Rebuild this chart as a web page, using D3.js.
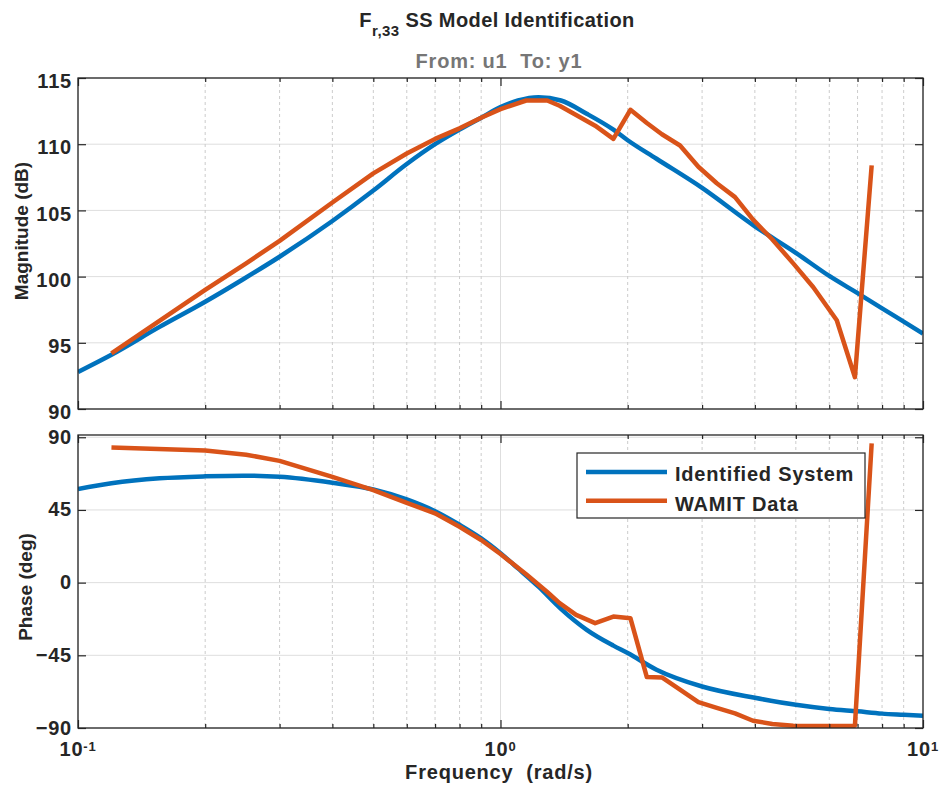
<!DOCTYPE html>
<html>
<head>
<meta charset="utf-8">
<script src="https://cdn.jsdelivr.net/npm/d3@7"></script>
<style>
  body { margin: 0; background: #fff; }
  svg { display: block; font-family: "Liberation Sans", Arial, Helvetica, sans-serif; font-weight: bold; }
</style>
</head>
<body>
<script>
// Identified system (smooth model curve)
var sysFreq  = [0.1, 0.12, 0.156, 0.2, 0.246, 0.3, 0.4, 0.5, 0.6, 0.7, 0.8, 0.9, 1.0, 1.1, 1.23, 1.39, 1.6, 1.85, 2.0, 2.34, 3.0, 4.0, 5.0, 6.0, 7.0, 8.0, 9.0, 10.0];
var sysMag   = [92.8, 94.1, 96.2, 98.1, 99.8, 101.5, 104.2, 106.5, 108.5, 110.0, 111.1, 112.0, 112.8, 113.3, 113.55, 113.3, 112.3, 111.1, 110.3, 108.9, 106.7, 103.8, 101.8, 100.05, 98.75, 97.6, 96.6, 95.7];
var sysPhase = [57.9, 61.5, 64.6, 65.8, 66.2, 65.5, 61.8, 57.7, 51.5, 44.2, 35.8, 27.4, 18.2, 8.8, -2.5, -16.2, -29.2, -39.0, -43.6, -53.9, -64.3, -71.3, -75.6, -78.2, -79.7, -81.1, -81.8, -82.4];

// WAMIT data (sampled points)
var wamitFreq  = [0.12, 0.2, 0.25, 0.3, 0.4, 0.5, 0.6, 0.7, 0.8, 0.9, 1.0, 1.15, 1.29, 1.38, 1.51, 1.675, 1.85, 2.03, 2.22, 2.41, 2.66, 2.94, 3.25, 3.59, 3.96, 4.4, 4.93, 5.5, 6.25, 6.9, 7.56];
var wamitMag   = [94.2, 99.0, 101.0, 102.7, 105.6, 107.8, 109.3, 110.4, 111.2, 112.0, 112.65, 113.3, 113.3, 112.9, 112.2, 111.4, 110.4, 112.6, 111.6, 110.75, 109.9, 108.3, 107.05, 106.0, 104.3, 102.8, 101.0, 99.2, 96.7, 92.4, 108.4];
var wamitPhase = [83.7, 81.8, 79.2, 75.4, 65.5, 57.3, 49.4, 42.9, 34.6, 26.4, 17.7, 5.2, -5.8, -12.7, -20.0, -25.1, -21.0, -22.0, -58.5, -58.7, -66.3, -74.0, -77.6, -80.9, -85.5, -87.5, -88.6, -88.8, -88.8, -88.6, 86.2];

var magTicks = [90, 95, 100, 105, 110, 115];
var phaseTicks = [-90, -45, 0, 45, 90];
var decadeTicks = [0.1, 1, 10];
var decadeExp = ["-1", "0", "1"];
var seriesNames = ["Identified System", "WAMIT Data"];

var W = 942, H = 794;
var BLUE = "#0072BD", ORANGE = "#D95319", INK = "#262626";

var svg = d3.select("body").append("svg").attr("width", W).attr("height", H);

var x = d3.scaleLog().domain([0.1, 10]).range([78, 923]);
var yMag = d3.scaleLinear().domain([90, 115]).range([409, 78]);
var yPh = d3.scaleLinear().domain([-90, 91.4]).range([728, 435]);

var minorX = x.ticks().filter(t => decadeTicks.indexOf(t) < 0);

function panel(id, y, yTicks, sysVals, wamitVals, labelDy) {
    var top = y.range()[1], bot = y.range()[0];
    var g = svg.append("g");

    // grid
    g.selectAll(".gy").data(yTicks).enter().append("line")
        .attr("x1", 78).attr("x2", 923)
        .attr("y1", d => y(d)).attr("y2", d => y(d))
        .attr("stroke", "#dedede").attr("stroke-width", 1);
    g.selectAll(".gxm").data(minorX).enter().append("line")
        .attr("x1", d => x(d)).attr("x2", d => x(d))
        .attr("y1", top).attr("y2", bot)
        .attr("stroke", "#cccccc").attr("stroke-width", 1).attr("stroke-dasharray", "3,3");
    g.selectAll(".gx").data(decadeTicks).enter().append("line")
        .attr("x1", d => x(d)).attr("x2", d => x(d))
        .attr("y1", top).attr("y2", bot)
        .attr("stroke", "#dedede").attr("stroke-width", 1);

    // data lines
    svg.append("clipPath").attr("id", id).append("rect")
        .attr("x", 78).attr("y", top).attr("width", 845).attr("height", bot - top);
    var sysLine = d3.line().x(d => x(d[0])).y(d => y(d[1])).curve(d3.curveMonotoneX);
    var wamitLine = d3.line().x(d => x(d[0])).y(d => y(d[1]));
    var lines = g.append("g").attr("clip-path", "url(#" + id + ")");
    lines.append("path").datum(d3.zip(sysFreq, sysVals))
        .attr("d", sysLine).attr("fill", "none").attr("stroke", BLUE)
        .attr("stroke-width", 4.5).attr("stroke-linejoin", "round");
    lines.append("path").datum(d3.zip(wamitFreq, wamitVals))
        .attr("d", wamitLine).attr("fill", "none").attr("stroke", ORANGE)
        .attr("stroke-width", 4.5).attr("stroke-linejoin", "round");

    // axes (inward ticks)
    var yl = g.append("g").attr("transform", "translate(78,0)")
        .call(d3.axisLeft(y).tickValues(yTicks).tickSize(-8).tickSizeOuter(0).tickPadding(6));
    g.append("g").attr("transform", "translate(923,0)")
        .call(d3.axisRight(y).tickValues(yTicks).tickSize(-8).tickSizeOuter(0).tickFormat(""));
    [top, bot].forEach(function (pos) {
        var ax = pos === top ? d3.axisBottom : d3.axisTop;
        g.append("g").attr("transform", "translate(0," + pos + ")")
            .call(ax(x).tickValues(decadeTicks).tickSize(8).tickSizeOuter(0).tickFormat(""));
        g.append("g").attr("transform", "translate(0," + pos + ")")
            .call(ax(x).tickValues(minorX).tickSize(4).tickSizeOuter(0).tickFormat(""));
    });
    g.selectAll(".domain").remove();
    g.selectAll(".tick line").attr("stroke", INK).attr("stroke-width", 1.2);
    yl.selectAll("text").attr("fill", INK).style("font-size", "20px")
        .style("letter-spacing", "0.8px").attr("dy", labelDy);

    g.append("rect").attr("x", 78).attr("y", top).attr("width", 845).attr("height", bot - top)
        .attr("fill", "none").attr("stroke", INK).attr("stroke-width", 1.3);
    return g;
}

panel("clipMag", yMag, magTicks, sysMag, wamitMag, "0.48em");
panel("clipPh", yPh, phaseTicks, sysPhase, wamitPhase, "0.3em");

// x tick labels 10^n
var xl = svg.append("g").selectAll("text").data(decadeTicks).enter().append("text")
    .attr("x", d => x(d)).attr("y", 756).attr("text-anchor", "middle")
    .attr("fill", INK).style("font-size", "20px").style("letter-spacing", "0.8px");
xl.append("tspan").text("10");
xl.append("tspan").attr("dy", -5).style("font-size", "13px").text((d, i) => decadeExp[i]);

// axis labels
svg.append("text").attr("x", 499).attr("y", 779).attr("text-anchor", "middle")
    .attr("fill", INK).style("font-size", "20px").style("letter-spacing", "0.8px")
    .attr("xml:space", "preserve").text("Frequency  (rad/s)");
svg.append("text").attr("transform", "translate(28,231) rotate(-90)").attr("text-anchor", "middle")
    .attr("fill", INK).style("font-size", "19px").text("Magnitude (dB)");
svg.append("text").attr("transform", "translate(32,587) rotate(-90)").attr("text-anchor", "middle")
    .attr("fill", INK).style("font-size", "19px").text("Phase (deg)");

// titles
var title = svg.append("text").attr("x", 497).attr("y", 27).attr("text-anchor", "middle")
    .attr("fill", INK).style("font-size", "20px").style("letter-spacing", "0.4px");
title.append("tspan").text("F");
title.append("tspan").attr("dy", 9).style("font-size", "15px").text("r,33");
title.append("tspan").attr("dy", -9).text(" SS Model Identification");
svg.append("text").attr("x", 499).attr("y", 68).attr("text-anchor", "middle")
    .attr("fill", "#767676").style("font-size", "20px").style("letter-spacing", "0.8px")
    .attr("xml:space", "preserve").text("From: u1  To: y1");

// legend
var leg = svg.append("g");
leg.append("rect").attr("x", 577).attr("y", 453).attr("width", 288).attr("height", 65)
    .attr("fill", "#fff").attr("stroke", INK).attr("stroke-width", 1.2);
var items = leg.selectAll(".item").data(seriesNames).enter().append("g");
items.append("line").attr("x1", 586).attr("x2", 667)
    .attr("y1", (d, i) => 472 + i * 28.7).attr("y2", (d, i) => 472 + i * 28.7)
    .attr("stroke", (d, i) => i ? ORANGE : BLUE).attr("stroke-width", 4.5);
items.append("text").attr("x", 675).attr("y", (d, i) => 481 + i * 29.5)
    .attr("fill", INK).style("font-size", "20px").style("letter-spacing", "0.8px").text(d => d);
</script>
</body>
</html>
